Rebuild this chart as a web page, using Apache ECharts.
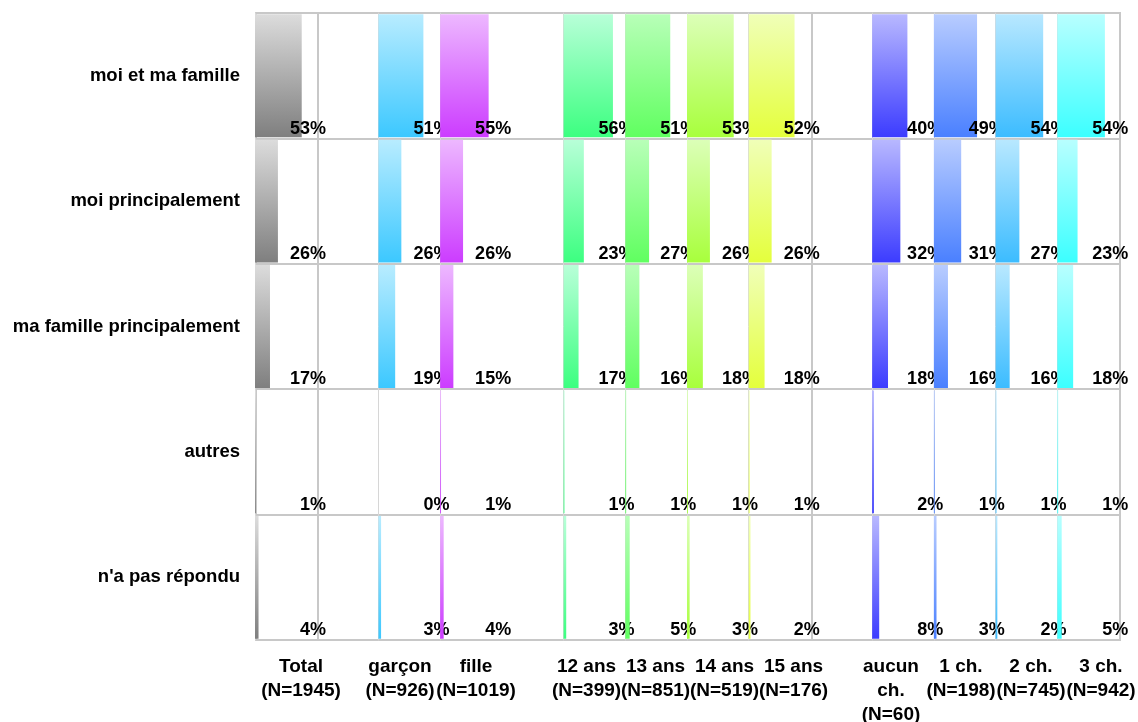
<!DOCTYPE html>
<html>
<head>
<meta charset="utf-8">
<script src="https://cdn.jsdelivr.net/npm/echarts@6/dist/echarts.min.js"></script>
<style>
  html, body { margin: 0; padding: 0; background: #fff; }
  #chart { width: 1138px; height: 722px; }
</style>
</head>
<body>
<div id="chart"></div>
<script>
// ---------------- DATA ----------------
const rowLabels = ['moi et ma famille', 'moi principalement', 'ma famille principalement', 'autres', "n'a pas répondu"];
const columnLabels = ['Total', 'garçon', 'fille', '12 ans', '13 ans', '14 ans', '15 ans', 'aucun\nch.', '1 ch.', '2 ch.', '3 ch.'];
const columnN = [1945, 926, 1019, 399, 851, 519, 176, 60, 198, 745, 942];
const groupSizes = [1, 2, 4, 4];

const moiEtMaFamille          = [53, 51, 55, 56, 51, 53, 52, 40, 49, 54, 54];
const moiPrincipalement       = [26, 26, 26, 23, 27, 26, 26, 32, 31, 27, 23];
const maFamillePrincipalement = [17, 19, 15, 17, 16, 18, 18, 18, 16, 16, 18];
const autres                  = [ 1,  0,  1,  1,  1,  1,  1,  2,  1,  1,  1];
const pasRepondu              = [ 4,  3,  4,  3,  5,  3,  2,  8,  3,  2,  5];
const rowSeries = [moiEtMaFamille, moiPrincipalement, maFamillePrincipalement, autres, pasRepondu];

// ---------------- STYLE / LAYOUT ----------------
const columnColors = [
  ['#dcdcdc', '#7f7f7f'],
  ['#b8ecff', '#3cc8ff'],
  ['#edb8ff', '#cc3cff'],
  ['#b8ffd8', '#3cff80'],
  ['#b8ffb8', '#60ff60'],
  ['#dcffb8', '#a8ff3c'],
  ['#f0ffb8', '#e4ff3c'],
  ['#b8b8ff', '#3c3cff'],
  ['#b8ccff', '#4a80ff'],
  ['#b8e8ff', '#3cbcff'],
  ['#b8ffff', '#3cffff']
];
const plot = { left: 256, right: 1120, top: 13, bottom: 640 };
const slotTotal = 14;                        // columns + gaps between groups + trailing gap
const pctPerSlot = 70;                       // value range covered by one column slot
const dividerAfterGroups = [0, 2];           // vertical separators
const groupLabelCenter = [301, 438, 690, 996];
const groupLabelSpacing = [70, 76, 69, 70];
const FONT = '"Liberation Sans", Arial, sans-serif';

// slot layout: one slot per column, one empty slot between groups
const colSlot = [];
const gapSlots = [];
let s = 0;
groupSizes.forEach((n, g) => {
  for (let i = 0; i < n; i++) colSlot.push(s++);
  if (g < groupSizes.length - 1) gapSlots.push(s++);
});
const slotW = (plot.right - plot.left) / slotTotal;

const grids = [];
const xAxes = [];
const yAxes = [];
const series = [];

// background grid : row lines, border, row labels, vertical separators
grids.push({ left: plot.left, top: plot.top, width: plot.right - plot.left, height: plot.bottom - plot.top,
  outerBoundsMode: 'none', containLabel: false,
  show: true, borderColor: '#c8c8c8', borderWidth: 2, backgroundColor: 'transparent' });
const dividerSlots = dividerAfterGroups.map(g => gapSlots[g]);
xAxes.push({ gridIndex: 0, type: 'category', data: Array.from({ length: slotTotal }, (_, i) => 's' + i),
  axisLine: { show: false }, axisTick: { show: false }, axisLabel: { show: false },
  splitLine: { show: true, interval: (idx) => dividerSlots.indexOf(idx) >= 0,
    lineStyle: { color: '#c8c8c8', width: 2 } } });
yAxes.push({ gridIndex: 0, type: 'category', inverse: true, data: rowLabels,
  axisLine: { show: false }, axisTick: { show: false },
  axisLabel: { color: '#000', fontFamily: FONT, fontWeight: 'bold', fontSize: 18.5, margin: 16 },
  splitLine: { show: true, lineStyle: { color: '#c8c8c8', width: 2 } } });

// one grid per column
columnLabels.forEach((lab, k) => {
  const gi = grids.length;
  grids.push({ left: plot.left + colSlot[k] * slotW - 1, top: plot.top, width: slotW, height: plot.bottom - plot.top,
    outerBoundsMode: 'none', containLabel: false });
  xAxes.push({ gridIndex: gi, type: 'value', min: 0, max: pctPerSlot, show: false });
  yAxes.push({ gridIndex: gi, type: 'category', inverse: true, data: rowLabels,
    axisLine: { show: true, lineStyle: { color: '#d6d6d6', width: 1 } },
    axisTick: { show: false }, axisLabel: { show: false }, splitLine: { show: false } });
  series.push({
    type: 'bar', xAxisIndex: gi, yAxisIndex: gi, z: 3 + k,
    barCategoryGap: '2%',
    data: rowSeries.map(r => r[k]),
    itemStyle: { color: { type: 'linear', x: 0, y: 0, x2: 0, y2: 1,
      colorStops: [{ offset: 0, color: columnColors[k][0] }, { offset: 1, color: columnColors[k][1] }] } },
    label: { show: true, position: [71, '93%'], align: 'right', verticalAlign: 'middle',
      formatter: '{c}%', color: '#000', fontFamily: FONT, fontWeight: 'bold', fontSize: 18 },
    emphasis: { disabled: true }, animation: false
  });
});

// x labels, one grid per group
let c0 = 0;
groupSizes.forEach((n, g) => {
  const gi = grids.length;
  const w = n * groupLabelSpacing[g];
  grids.push({ left: groupLabelCenter[g] - w / 2, width: w, top: plot.top, height: plot.bottom - plot.top,
    outerBoundsMode: 'none', containLabel: false });
  const labs = [];
  for (let i = 0; i < n; i++) labs.push(columnLabels[c0 + i] + '\n(N=' + columnN[c0 + i] + ')');
  c0 += n;
  xAxes.push({ gridIndex: gi, type: 'category', data: labs, position: 'bottom',
    axisLine: { show: false, onZero: false }, axisTick: { show: false },
    axisLabel: { interval: 0, color: '#000', fontFamily: FONT, fontWeight: 'bold', fontSize: 19,
      lineHeight: 24, margin: 15, verticalAlign: 'top' } });
  yAxes.push({ gridIndex: gi, type: 'value', min: 0, max: 1, show: false });
});

const chart = echarts.init(document.getElementById('chart'), null, { renderer: 'canvas' });
chart.setOption({
  animation: false,
  backgroundColor: '#fff',
  grid: grids, xAxis: xAxes, yAxis: yAxes, series: series
});
</script>
</body>
</html>
